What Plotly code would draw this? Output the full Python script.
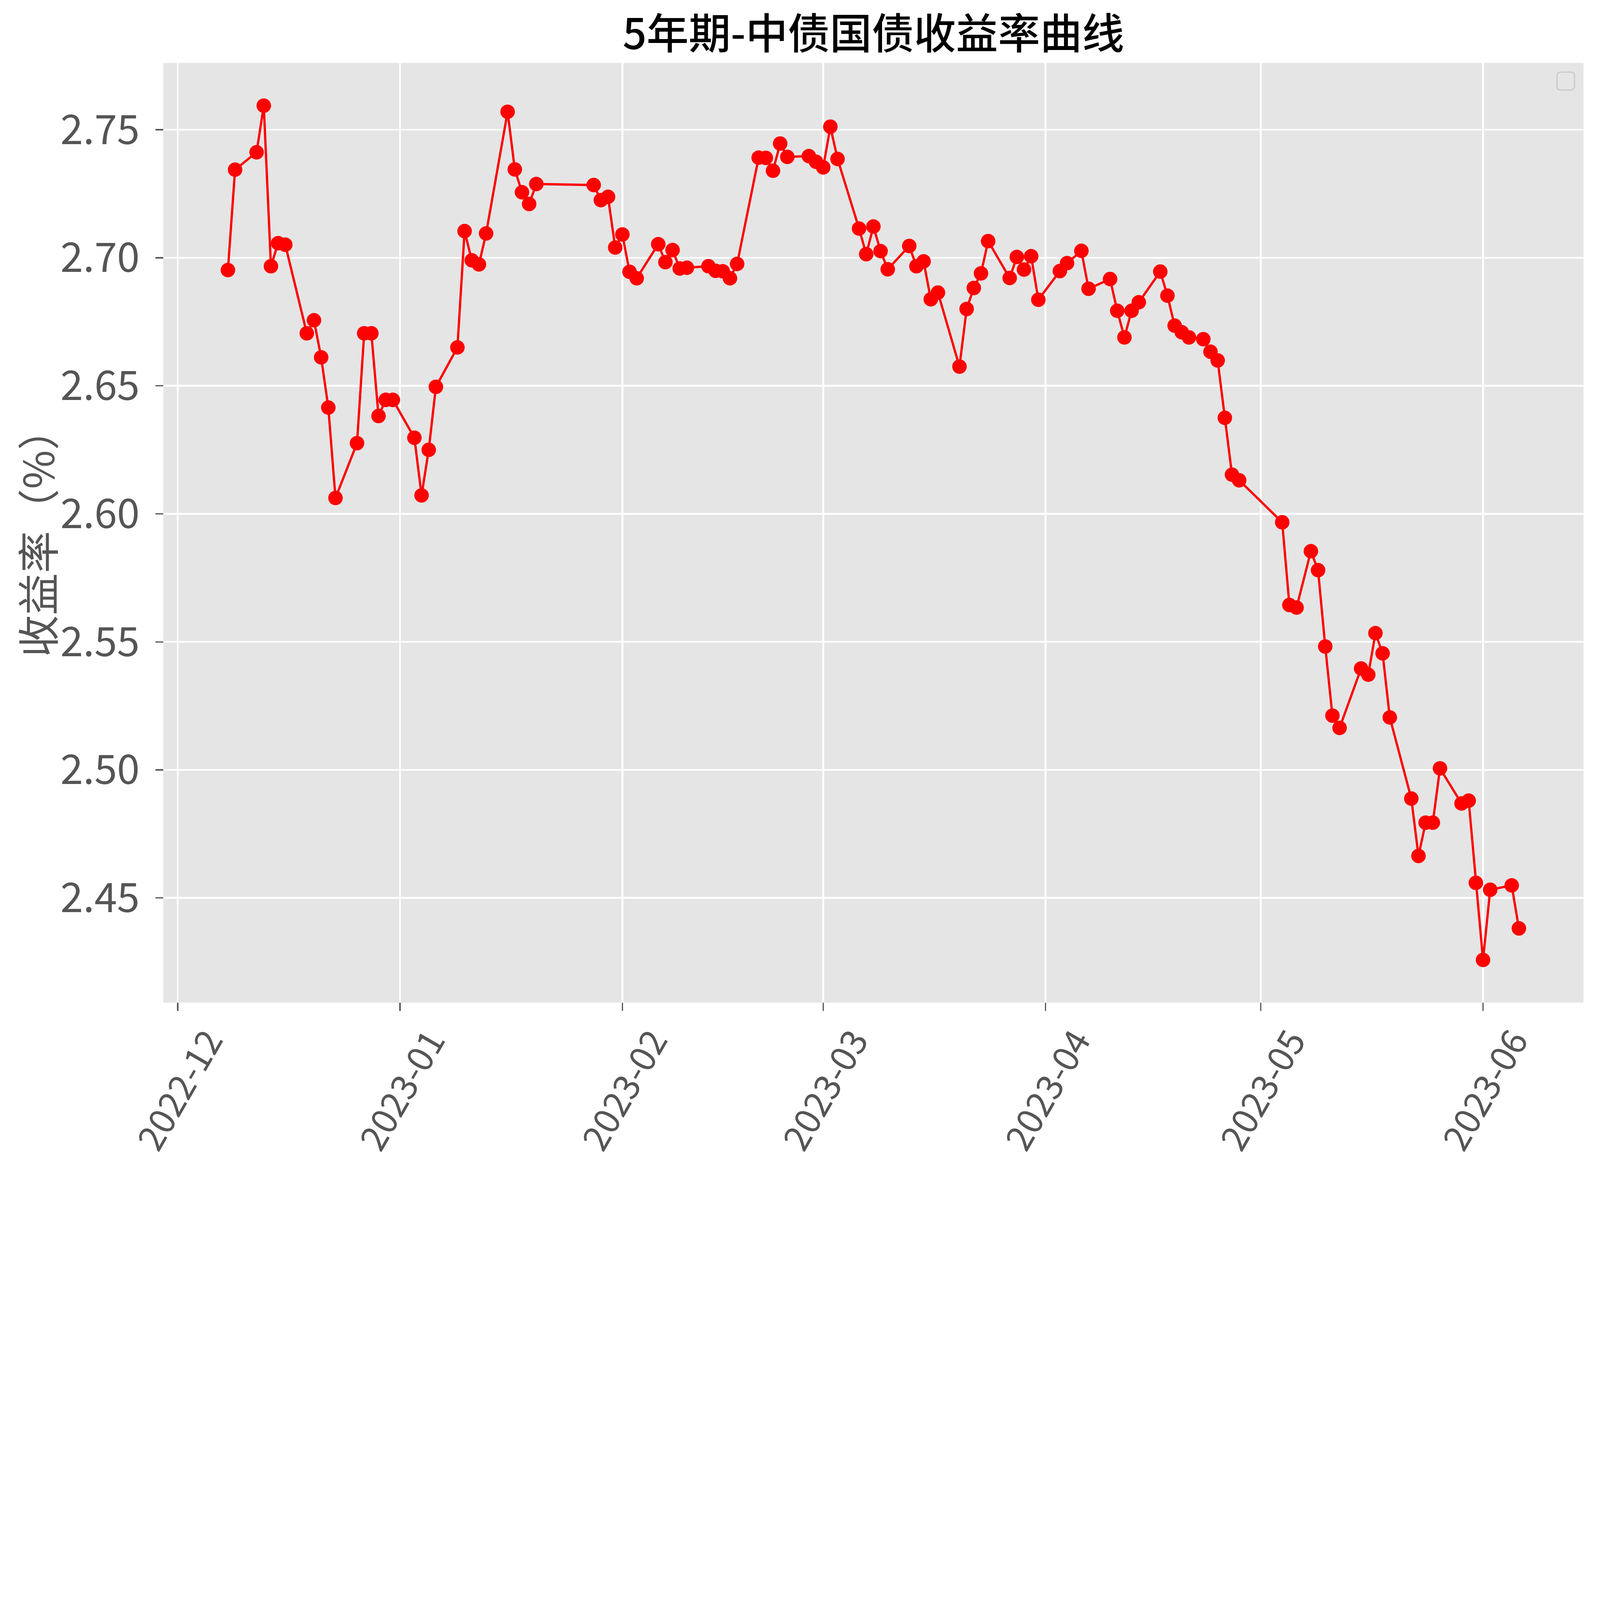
import plotly.graph_objects as go
import pandas as pd

dates = [
    "2022-12-08", "2022-12-09", "2022-12-12", "2022-12-13", "2022-12-14", "2022-12-15", "2022-12-16",
    "2022-12-19", "2022-12-20", "2022-12-21", "2022-12-22", "2022-12-23", "2022-12-26", "2022-12-27",
    "2022-12-28", "2022-12-29", "2022-12-30", "2022-12-31",
    "2023-01-03", "2023-01-04", "2023-01-05", "2023-01-06", "2023-01-09", "2023-01-10", "2023-01-11",
    "2023-01-12", "2023-01-13", "2023-01-16", "2023-01-17", "2023-01-18", "2023-01-19", "2023-01-20",
    "2023-01-28", "2023-01-29", "2023-01-30", "2023-01-31",
    "2023-02-01", "2023-02-02", "2023-02-03", "2023-02-06", "2023-02-07", "2023-02-08", "2023-02-09",
    "2023-02-10", "2023-02-13", "2023-02-14", "2023-02-15", "2023-02-16", "2023-02-17", "2023-02-20",
    "2023-02-21", "2023-02-22", "2023-02-23", "2023-02-24", "2023-02-27", "2023-02-28",
    "2023-03-01", "2023-03-02", "2023-03-03", "2023-03-06", "2023-03-07", "2023-03-08", "2023-03-09",
    "2023-03-10", "2023-03-13", "2023-03-14", "2023-03-15", "2023-03-16", "2023-03-17", "2023-03-20",
    "2023-03-21", "2023-03-22", "2023-03-23", "2023-03-24", "2023-03-27", "2023-03-28", "2023-03-29",
    "2023-03-30", "2023-03-31",
    "2023-04-03", "2023-04-04", "2023-04-06", "2023-04-07", "2023-04-10", "2023-04-11", "2023-04-12",
    "2023-04-13", "2023-04-14", "2023-04-17", "2023-04-18", "2023-04-19", "2023-04-20", "2023-04-21",
    "2023-04-23", "2023-04-24", "2023-04-25", "2023-04-26", "2023-04-27", "2023-04-28",
    "2023-05-04", "2023-05-05", "2023-05-06", "2023-05-08", "2023-05-09", "2023-05-10", "2023-05-11",
    "2023-05-12", "2023-05-15", "2023-05-16", "2023-05-17", "2023-05-18", "2023-05-19", "2023-05-22",
    "2023-05-23", "2023-05-24", "2023-05-25", "2023-05-26", "2023-05-29", "2023-05-30", "2023-05-31",
    "2023-06-01", "2023-06-02", "2023-06-05", "2023-06-06",
]

yields = [
    2.6952, 2.7344, 2.7412, 2.7594, 2.6967, 2.7057, 2.7051,
    2.6705, 2.6756, 2.6611, 2.6415, 2.6062, 2.6276, 2.6705,
    2.6705, 2.6382, 2.6445, 2.6445,
    2.6297, 2.6072, 2.6250, 2.6496, 2.6650, 2.7104, 2.6990,
    2.6974, 2.7095, 2.7570, 2.7345, 2.7256, 2.7210, 2.7288,
    2.7284, 2.7225, 2.7238, 2.7040,
    2.7091, 2.6945, 2.6920, 2.7053, 2.6983, 2.7030, 2.6958,
    2.6961, 2.6967, 2.6949, 2.6947, 2.6920, 2.6976, 2.7391,
    2.7390, 2.7340, 2.7446, 2.7394, 2.7397, 2.7375,
    2.7353, 2.7512, 2.7386, 2.7114, 2.7014, 2.7122, 2.7026,
    2.6955, 2.7046, 2.6967, 2.6986, 2.6838, 2.6864, 2.6575,
    2.6800, 2.6882, 2.6939, 2.7065, 2.6921, 2.7003, 2.6954,
    2.7006, 2.6836,
    2.6948, 2.6979, 2.7027, 2.6879, 2.6917, 2.6793, 2.6689,
    2.6793, 2.6826, 2.6946, 2.6852, 2.6735, 2.6709, 2.6689,
    2.6682, 2.6633, 2.6599, 2.6375, 2.6153, 2.6131,
    2.5967, 2.5644, 2.5634, 2.5854, 2.5780, 2.5482, 2.5212,
    2.5164, 2.5396, 2.5372, 2.5534, 2.5455, 2.5205, 2.4888,
    2.4664, 2.4794, 2.4794, 2.5006, 2.4869, 2.4880, 2.4559,
    2.4258, 2.4532, 2.4549, 2.4381,
]

x_tick_dates = ["2022-12-01", "2023-01-01", "2023-02-01", "2023-03-01",
                "2023-04-01", "2023-05-01", "2023-06-01"]
x_tick_labels = ["2022-12", "2023-01", "2023-02", "2023-03",
                 "2023-04", "2023-05", "2023-06"]
y_tick_vals = [2.45, 2.50, 2.55, 2.60, 2.65, 2.70, 2.75]
y_tick_labels = ["2.45", "2.50", "2.55", "2.60", "2.65", "2.70", "2.75"]

title_text = "5年期-中债国债收益率曲线"
y_title = "收益率（%）"

FONT = "Noto Sans CJK SC"
GREY = "#555555"

W, H = 6278, 4573
L, R, T, B = 641, 65, 247, 639

# matplotlib-like 5% margins
dt = pd.to_datetime(dates)
span = dt.max() - dt.min()
x_range = [dt.min() - span * 0.05, dt.max() + span * 0.05]
ymin, ymax = min(yields), max(yields)
ys = ymax - ymin
y_range = [ymin - ys * 0.05, ymax + ys * 0.05]

fig = go.Figure()
fig.add_trace(go.Scatter(
    x=dates, y=yields, mode="lines+markers",
    line=dict(color="#ff0000", width=9),
    marker=dict(color="#ff0000", size=57, symbol="circle", line=dict(width=0)),
    showlegend=False,
))

annotations = []
for d, lab in zip(x_tick_dates, x_tick_labels):
    annotations.append(dict(
        x=d, y=0, xref="x", yref="paper", text=lab, showarrow=False,
        textangle=-60, xanchor="center", yanchor="top", yshift=-62,
        font=dict(family=FONT, size=140, color=GREY),
    ))
annotations.append(dict(
    x=0, y=0.5, xref="paper", yref="paper", text=y_title, showarrow=False,
    textangle=-90, xanchor="center", yanchor="middle", xshift=-500,
    font=dict(family=FONT, size=165, color=GREY),
))

# empty legend frame (top-right)
lx0, lx1 = (6109 - L) / (W - L - R), (6178 - L) / (W - L - R)
ly0, ly1 = (H - B - 353) / (H - T - B), (H - B - 283) / (H - T - B)
rx, ry = 0.0028, 0.0042
path = (f"M {lx0+rx},{ly0} L {lx1-rx},{ly0} Q {lx1},{ly0} {lx1},{ly0+ry} "
        f"L {lx1},{ly1-ry} Q {lx1},{ly1} {lx1-rx},{ly1} L {lx0+rx},{ly1} "
        f"Q {lx0},{ly1} {lx0},{ly1-ry} L {lx0},{ly0+ry} Q {lx0},{ly0} {lx0+rx},{ly0} Z")

fig.update_layout(
    width=W, height=H,
    margin=dict(l=L, r=R, t=T, b=B, autoexpand=False),
    paper_bgcolor="white", plot_bgcolor="#e5e5e5",
    title=dict(text=title_text, x=(L + (W - L - R) / 2) / W, xanchor="center",
               y=1 - 134 / H, yanchor="middle", yref="container",
               font=dict(family=FONT, size=165, color="black", weight=500)),
    annotations=annotations,
    shapes=[dict(type="path", xref="paper", yref="paper", path=path,
                 line=dict(color="#cccccc", width=5), fillcolor="rgba(229,229,229,0.8)",
                 layer="above")],
    showlegend=False,
)
fig.update_xaxes(
    type="date", range=x_range, tickvals=x_tick_dates, ticktext=x_tick_labels,
    showticklabels=False, ticks="outside", ticklen=32, tickwidth=5, tickcolor=GREY,
    showgrid=True, gridcolor="white", gridwidth=7, zeroline=False, showline=False,
)
fig.update_yaxes(
    range=y_range, tickvals=y_tick_vals, ticktext=y_tick_labels,
    ticks="outside", ticklen=30, tickwidth=5, tickcolor=GREY,
    tickfont=dict(family=FONT, size=160, color=GREY), ticklabelstandoff=30,
    showgrid=True, gridcolor="white", gridwidth=7, zeroline=False, showline=False,
)

fit_script = """
var gd = document.getElementById('{plot_id}');
var de = document.documentElement, b = document.body;
de.style.margin = '0'; de.style.padding = '0'; de.style.overflow = 'hidden';
b.style.margin = '0'; b.style.padding = '0'; b.style.overflow = 'hidden';
var vw = de.clientWidth || window.innerWidth, vh = de.clientHeight || window.innerHeight;
var s = Math.min(vw / %d, vh / %d);
gd.style.transformOrigin = '0 0';
gd.style.transform = 'scale(' + s + ')';
b.style.width = (%d * s) + 'px';
b.style.height = (%d * s) + 'px';
de.style.height = (%d * s) + 'px';
""" % (W, H, W, H, H)

fig.write_html("out.html", post_script=fit_script, config={"displayModeBar": False})
